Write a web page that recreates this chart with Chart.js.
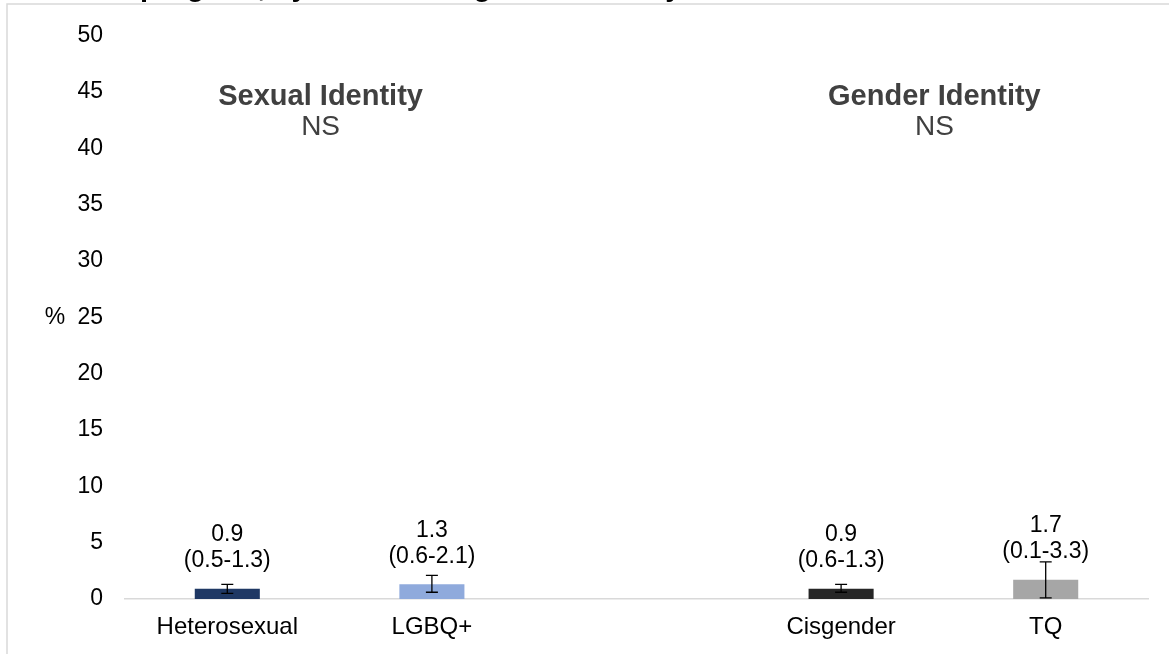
<!DOCTYPE html>
<html>
<head>
<meta charset="utf-8">
<script src="https://cdn.jsdelivr.net/npm/chart.js@4/dist/chart.umd.min.js"></script>
<style>
  html, body { margin: 0; padding: 0; background: #ffffff; }
  canvas { display: block; }
</style>
</head>
<body>
<canvas id="c" width="1169" height="654"></canvas>
<script>
// ---- Data ----
const categories = ['Heterosexual', 'LGBQ+', '', 'Cisgender', 'TQ'];
const values = [0.9, 1.3, null, 0.9, 1.7];
const lowerCI = [0.5, 0.6, null, 0.6, 0.1];
const upperCI = [1.3, 2.1, null, 1.3, 3.3];
const barColors = ['#1f3864', '#8faadc', '#ffffff', '#262626', '#a6a6a6'];
const groupTitles = ['Sexual Identity', 'Gender Identity'];
const groupNotes = ['NS', 'NS'];
const groupMembers = [[0, 1], [3, 4]];
const yMin = 0, yMax = 50, yStep = 5;
const yAxisLabel = '%';
const titleTail = 'program, by sexual and gender identity';

const FONT = '"Liberation Sans", Arial, sans-serif';

const overlay = {
  id: 'overlay',
  beforeDraw(chart) {
    const ctx = chart.ctx;
    ctx.save();
    ctx.fillStyle = '#ffffff';
    ctx.fillRect(0, 0, chart.width, chart.height);
    // frame
    ctx.strokeStyle = '#d9d9d9';
    ctx.lineWidth = 1.5;
    ctx.beginPath();
    ctx.moveTo(7, chart.height + 2);
    ctx.lineTo(7, 4);
    ctx.lineTo(chart.width + 2, 4);
    ctx.stroke();
    // clipped title (only descenders visible)
    ctx.fillStyle = '#000000';
    ctx.font = 'bold 29px ' + FONT;
    ctx.textAlign = 'left';
    ctx.textBaseline = 'alphabetic';
    ctx.fillText(titleTail, 140, -4);
    ctx.restore();
  },
  afterDatasetsDraw(chart) {
    const ctx = chart.ctx;
    const x = chart.scales.x, y = chart.scales.y;
    const meta = chart.getDatasetMeta(0);
    ctx.save();
    // error bars
    ctx.strokeStyle = '#000000';
    ctx.lineWidth = 1.3;
    values.forEach((v, i) => {
      if (v === null) return;
      const cx = meta.data[i].x;
      const yl = y.getPixelForValue(lowerCI[i]);
      const yu = y.getPixelForValue(upperCI[i]);
      ctx.beginPath();
      ctx.moveTo(cx, yl); ctx.lineTo(cx, yu);
      ctx.moveTo(cx - 6, yl); ctx.lineTo(cx + 6, yl);
      ctx.moveTo(cx - 6, yu); ctx.lineTo(cx + 6, yu);
      ctx.stroke();
    });
    // data labels
    ctx.fillStyle = '#000000';
    ctx.font = '23px ' + FONT;
    ctx.textAlign = 'center';
    ctx.textBaseline = 'middle';
    values.forEach((v, i) => {
      if (v === null) return;
      const cx = meta.data[i].x;
      const top = y.getPixelForValue(v);
      ctx.fillText(v.toFixed(1), cx, top - 54);
      ctx.fillText('(' + lowerCI[i].toFixed(1) + '-' + upperCI[i].toFixed(1) + ')', cx, top - 28);
    });
    // group headings
    groupTitles.forEach((t, g) => {
      const [a, b] = groupMembers[g];
      const cx = (x.getPixelForValue(a) + x.getPixelForValue(b)) / 2 - 9;
      ctx.fillStyle = '#404040';
      ctx.font = 'bold 29px ' + FONT;
      ctx.fillText(t, cx, 97);
      ctx.font = '28px ' + FONT;
      ctx.fillText(groupNotes[g], cx, 127);
    });
    // y axis label
    ctx.fillStyle = '#000000';
    ctx.font = '23px ' + FONT;
    ctx.fillText(yAxisLabel, 55, y.getPixelForValue((yMin + yMax) / 2));
    ctx.restore();
  }
};

new Chart(document.getElementById('c'), {
  type: 'bar',
  data: {
    labels: categories,
    datasets: [{
      data: values,
      backgroundColor: barColors,
      borderWidth: 0,
      barPercentage: 0.318,
      categoryPercentage: 1.0
    }]
  },
  options: {
    responsive: false,
    animation: false,
    devicePixelRatio: 1,
    layout: { padding: { left: 0, right: 21, top: 33, bottom: 0 } },
    plugins: { legend: { display: false }, tooltip: { enabled: false }, title: { display: false } },
    scales: {
      x: {
        grid: { display: false, drawTicks: false },
        border: { display: true, color: '#d9d9d9', width: 1.5 },
        ticks: { color: '#000000', padding: 14, font: { size: 24, family: FONT }, maxRotation: 0, autoSkip: false },
        afterFit(s) { s.height = 55; }
      },
      y: {
        min: yMin, max: yMax,
        grid: { display: false, drawTicks: false },
        border: { display: false },
        ticks: { stepSize: yStep, color: '#000000', padding: 22, font: { size: 23, family: FONT } },
        afterFit(s) { s.width = 125; }
      }
    }
  },
  plugins: [overlay]
});
</script>
</body>
</html>
